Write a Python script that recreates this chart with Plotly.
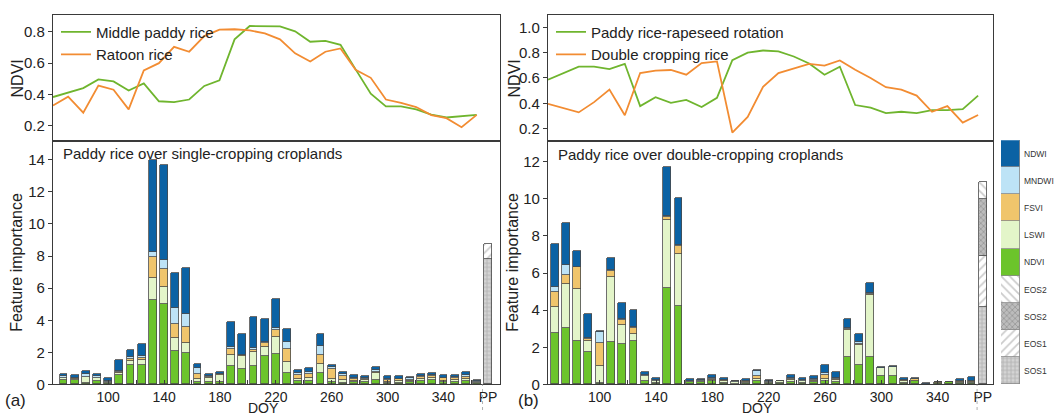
import plotly.graph_objects as go

W, H = 1056, 418
FONT = "Liberation Sans, Arial, sans-serif"

# ---------------- NDVI profiles (top panels) ----------------
middle_paddy = [0.383, 0.41, 0.44, 0.496, 0.483, 0.425, 0.47, 0.356, 0.35, 0.367, 0.454, 0.49,
                0.752, 0.838, 0.835, 0.835, 0.804, 0.737, 0.742, 0.717, 0.56, 0.404, 0.323,
                0.323, 0.304, 0.27, 0.252, 0.26, 0.269]
ratoon = [0.329, 0.385, 0.283, 0.456, 0.43, 0.304, 0.554, 0.6, 0.704, 0.673, 0.773, 0.815,
          0.817, 0.81, 0.79, 0.752, 0.663, 0.61, 0.673, 0.694, 0.558, 0.506, 0.367, 0.346,
          0.319, 0.267, 0.248, 0.19, 0.269]
rapeseed_rot = [0.587, 0.64, 0.689, 0.689, 0.67, 0.712, 0.378, 0.448, 0.404, 0.427, 0.37, 0.443,
                0.741, 0.8, 0.817, 0.81, 0.77, 0.715, 0.626, 0.689, 0.386, 0.365, 0.323, 0.333,
                0.323, 0.346, 0.346, 0.354, 0.461]
double_rice = [0.396, 0.36, 0.328, 0.409, 0.508, 0.305, 0.639, 0.658, 0.663, 0.626, 0.718, 0.731,
               0.169, 0.292, 0.53, 0.639, 0.678, 0.712, 0.697, 0.739, 0.665, 0.6, 0.527, 0.508,
               0.461, 0.333, 0.378, 0.247, 0.307]
profile_idx = list(range(len(middle_paddy)))

# ---------------- Feature importance (bottom panels) ----------------
doy = list(range(68, 365, 8))
features = ["NDVI", "LSWI", "FSVI", "MNDWI", "NDWI"]
colors = {"NDVI": "#6CC42B", "LSWI": "#E3F5C9", "FSVI": "#F0C56C",
          "MNDWI": "#BDE3F6", "NDWI": "#0B62A4"}

single = {
    "NDVI":  [0.27, 0.27, 0.05, 0.20, 0.08, 0.55, 1.17, 1.19, 5.27, 5.01, 2.09, 1.97, 0.14, 0.15,
              0.12, 1.16, 0.96, 1.14, 1.74, 1.90, 0.73, 0.20, 0.20, 0.73, 0.12, 0.10, 0.12, 0.15,
              0.25, 0.08, 0.10, 0.15, 0.20, 0.25, 0.12, 0.15, 0.18, 0.10],
    "LSWI":  [0.10, 0.07, 0.38, 0.17, 0.05, 0.15, 0.30, 0.35, 1.32, 1.02, 0.81, 0.61, 0.17, 0.27,
              0.45, 0.67, 0.78, 0.86, 0.60, 1.06, 0.65, 0.10, 0.17, 0.51, 0.20, 0.14, 0.10, 0.12,
              0.45, 0.08, 0.08, 0.05, 0.15, 0.15, 0.10, 0.10, 0.15, 0.03],
    "FSVI":  [0.05, 0.05, 0.05, 0.05, 0.04, 0.08, 0.13, 0.12, 1.32, 1.13, 0.85, 0.97, 0.35, 0.05,
              0.05, 0.34, 0.06, 0.15, 0.20, 0.41, 0.81, 0.28, 0.28, 0.57, 0.61, 0.30, 0.10, 0.06,
              0.06, 0.10, 0.12, 0.05, 0.10, 0.13, 0.15, 0.12, 0.12, 0.03],
    "MNDWI": [0.07, 0.03, 0.15, 0.08, 0.04, 0.07, 0.08, 0.10, 0.31, 0.57, 1.02, 0.85, 0.37, 0.05,
              0.05, 0.16, 0.05, 0.10, 0.10, 0.16, 0.47, 0.12, 0.10, 0.60, 0.17, 0.13, 0.08, 0.06,
              0.12, 0.05, 0.05, 0.15, 0.07, 0.05, 0.05, 0.10, 0.10, 0.02],
    "NDWI":  [0.13, 0.15, 0.17, 0.16, 0.20, 0.69, 0.47, 0.72, 5.74, 5.92, 2.19, 2.84, 0.26, 0.14,
              0.11, 1.52, 1.29, 1.95, 1.40, 1.80, 0.77, 0.20, 0.24, 0.71, 0.10, 0.10, 0.19, 0.14,
              0.22, 0.18, 0.14, 0.07, 0.15, 0.15, 0.17, 0.12, 0.22, 0.10],
}
double = {
    "NDVI":  [2.75, 3.02, 2.33, 1.75, 0.05, 2.25, 2.16, 2.32, 0.15, 0.05, 5.21, 4.21, 0.10, 0.12,
              0.15, 0.05, 0.03, 0.05, 0.15, 0.05, 0.08, 0.12, 0.08, 0.10, 0.15, 0.12, 1.49, 1.05,
              1.49, 0.45, 0.42, 0.08, 0.15, 0.02, 0.05, 0.10, 0.08, 0.08],
    "LSWI":  [1.40, 2.37, 2.81, 0.58, 0.91, 3.54, 1.05, 0.38, 0.30, 0.12, 3.61, 2.81, 0.05, 0.05,
              0.10, 0.15, 0.10, 0.08, 0.12, 0.05, 0.07, 0.13, 0.07, 0.10, 0.15, 0.12, 1.44, 1.09,
              3.33, 0.42, 0.50, 0.12, 0.05, 0.01, 0.03, 0.00, 0.05, 0.03],
    "FSVI":  [0.84, 0.52, 1.18, 0.10, 1.27, 0.30, 0.25, 0.35, 0.02, 0.02, 0.20, 0.40, 0.02, 0.02,
              0.04, 0.02, 0.01, 0.02, 0.18, 0.03, 0.01, 0.05, 0.03, 0.04, 0.18, 0.05, 0.03, 0.04,
              0.03, 0.01, 0.01, 0.02, 0.08, 0.00, 0.02, 0.00, 0.02, 0.05],
    "MNDWI": [0.26, 0.53, 0.02, 0.08, 0.61, 0.05, 0.05, 0.03, 0.03, 0.02, 0.05, 0.07, 0.02, 0.02,
              0.05, 0.03, 0.02, 0.03, 0.27, 0.02, 0.01, 0.05, 0.04, 0.05, 0.10, 0.03, 0.08, 0.08,
              0.05, 0.01, 0.01, 0.02, 0.01, 0.00, 0.01, 0.00, 0.02, 0.02],
    "NDWI":  [2.28, 2.24, 0.82, 1.26, 0.02, 0.65, 0.88, 0.90, 0.17, 0.14, 2.63, 2.56, 0.11, 0.05,
              0.15, 0.07, 0.02, 0.10, 0.07, 0.10, 0.01, 0.16, 0.10, 0.13, 0.46, 0.35, 0.50, 0.42,
              0.55, 0.04, 0.04, 0.08, 0.03, 0.06, 0.03, 0.02, 0.10, 0.22],
}

# Phenology-period (PP) features
pp_x = [372]
pp_names = ["SOS1", "EOS1", "SOS2", "EOS2"]
pp_single = {"SOS1": 7.8, "EOS1": 0.95, "SOS2": 0.0, "EOS2": 0.0}
pp_double = {"SOS1": 4.16, "EOS1": 2.77, "SOS2": 3.03, "EOS2": 0.94}
pp_pattern = {
    "SOS1": dict(shape="+", bgcolor="#d4d4d4", fgcolor="#8a8a8a", size=4, solidity=0.35),
    "EOS1": dict(shape="/", bgcolor="#ffffff", fgcolor="#9a9a9a", size=6, solidity=0.3),
    "SOS2": dict(shape="x", bgcolor="#bcbcbc", fgcolor="#7a7a7a", size=4, solidity=0.4),
    "EOS2": dict(shape="\\", bgcolor="#ffffff", fgcolor="#9a9a9a", size=6, solidity=0.3),
}

doy_ticks = [100, 140, 180, 220, 260, 300, 340]
legend_order = ["NDWI", "MNDWI", "FSVI", "LSWI", "NDVI", "EOS2", "SOS2", "EOS1", "SOS1"]

GREEN = "#6FB52E"
ORANGE = "#F28C32"
AX = "#3a3a3a"

fig = go.Figure()

# top panels
fig.add_trace(go.Scatter(x=profile_idx, y=middle_paddy, mode="lines", name="Middle paddy rice",
                         line=dict(color=GREEN, width=1.8), xaxis="x", yaxis="y", legend="legend"))
fig.add_trace(go.Scatter(x=profile_idx, y=ratoon, mode="lines", name="Ratoon rice",
                         line=dict(color=ORANGE, width=1.8), xaxis="x", yaxis="y", legend="legend"))
fig.add_trace(go.Scatter(x=profile_idx, y=rapeseed_rot, mode="lines", name="Paddy rice-rapeseed rotation",
                         line=dict(color=GREEN, width=1.8), xaxis="x3", yaxis="y3", legend="legend2"))
fig.add_trace(go.Scatter(x=profile_idx, y=double_rice, mode="lines", name="Double cropping rice",
                         line=dict(color=ORANGE, width=1.8), xaxis="x3", yaxis="y3", legend="legend2"))

BW = 5.6
for data, xa, ya in [(single, "x2", "y2"), (double, "x4", "y4")]:
    for f in features:
        fig.add_trace(go.Bar(x=doy, y=data[f], width=BW, marker=dict(color=colors[f],
                             line=dict(color="#4a4a4a", width=0.8)),
                             xaxis=xa, yaxis=ya, showlegend=False, hoverinfo="skip"))
for data, xa, ya in [(pp_single, "x2", "y2"), (pp_double, "x4", "y4")]:
    for p in pp_names:
        if data[p] <= 0:
            continue
        fig.add_trace(go.Bar(x=pp_x, y=[data[p]], width=BW,
                             marker=dict(color="white", pattern=pp_pattern[p],
                                         line=dict(color="#4a4a4a", width=0.8)),
                             xaxis=xa, yaxis=ya, showlegend=False, hoverinfo="skip"))

# feature legend as its own tiny stacked column
for name in reversed(legend_order):
    if name in colors:
        mk = dict(color=colors[name], line=dict(color="#8a8a8a", width=0.8))
    else:
        mk = dict(color="white", pattern=pp_pattern[name], line=dict(color="#8a8a8a", width=0.8))
    fig.add_trace(go.Bar(x=[0], y=[1], width=1, marker=mk, xaxis="x5", yaxis="y5",
                         showlegend=False, hoverinfo="skip"))

LX = [53 / W, 500 / W]
RX = [548 / W, 993 / W]
TY = [1 - 144 / H, 1 - 15 / H]
BY = [1 - 392 / H, 1 - 144 / H]

tickfont = dict(family=FONT, size=15, color="#222")
xtickfont = dict(family=FONT, size=14, color="#222")
common = dict(showline=True, mirror=True, linecolor=AX, linewidth=1.3, showgrid=False,
              zeroline=False)

layout = dict(
    width=W, height=H, margin=dict(l=0, r=0, t=0, b=0),
    paper_bgcolor="white", plot_bgcolor="white", barmode="stack", bargap=0,
    font=dict(family=FONT, color="#222"),
    xaxis=dict(domain=LX, range=[0, 29.54], showticklabels=False, ticks="", anchor="y", **common),
    yaxis=dict(domain=TY, range=[0.1, 0.91], tickvals=[0.2, 0.4, 0.6, 0.8], tickformat=".1f",
               ticks="outside", ticklen=4, tickcolor=AX, anchor="x", tickfont=tickfont, **common),
    xaxis2=dict(domain=LX, range=[60.5, 380.5], tickvals=doy_ticks + pp_x,
                ticktext=[str(t) for t in doy_ticks] + ["PP"], ticks="", anchor="y2",
                tickfont=xtickfont,
                minor=dict(tickvals=list(range(100, 361, 20)), ticks="inside", ticklen=4,
                           tickcolor=AX), **common),
    yaxis2=dict(domain=BY, range=[0, 15.15], tickvals=list(range(0, 15, 2)), ticks="outside",
                ticklen=4, tickcolor=AX, anchor="x2", tickfont=tickfont, **common),
    xaxis3=dict(domain=RX, range=[0, 28.97], showticklabels=False, ticks="", anchor="y3", **common),
    yaxis3=dict(domain=TY, range=[0.1, 1.1], tickvals=[0.2, 0.4, 0.6, 0.8, 1.0], tickformat=".1f",
                ticks="outside", ticklen=4, tickcolor=AX, anchor="x3", tickfont=tickfont, **common),
    xaxis4=dict(domain=RX, range=[63.3, 379.3], tickvals=doy_ticks + pp_x,
                ticktext=[str(t) for t in doy_ticks] + ["PP"], ticks="", anchor="y4",
                tickfont=xtickfont,
                minor=dict(tickvals=list(range(100, 361, 20)), ticks="inside", ticklen=4,
                           tickcolor=AX), **common),
    yaxis4=dict(domain=BY, range=[0, 13.1], tickvals=list(range(0, 13, 2)), ticks="outside",
                ticklen=4, tickcolor=AX, anchor="x4", tickfont=tickfont, **common),
    xaxis5=dict(domain=[1001 / W, 1020 / W], range=[-0.5, 0.5], visible=False, anchor="y5"),
    yaxis5=dict(domain=[1 - 392 / H, 1 - 143 / H], range=[0, 9], visible=False, anchor="x5"),
    legend=dict(x=56 / W, y=1 - 16 / H, xanchor="left", yanchor="top", bgcolor="rgba(0,0,0,0)",
                font=dict(family=FONT, size=15, color="#222"), tracegroupgap=0, itemwidth=30,
                traceorder="normal"),
    legend2=dict(x=551 / W, y=1 - 16 / H, xanchor="left", yanchor="top", bgcolor="rgba(0,0,0,0)",
                 font=dict(family=FONT, size=15, color="#222"), tracegroupgap=0, itemwidth=30,
                 traceorder="normal"),
)
fig.update_layout(**layout)

ann = []
def txt(x, y, s, size=15, angle=0, xanchor="center", yanchor="middle"):
    ann.append(dict(x=x, y=y, text=s, showarrow=False, xref="paper", yref="paper", textangle=angle,
                    xanchor=xanchor, yanchor=yanchor,
                    font=dict(family=FONT, size=size, color="#222")))

txt(17 / W, 1 - 80 / H, "NDVI", 16, -90)
txt(17 / W, 1 - 268 / H, "Feature importance", 16, -90)
txt(514 / W, 1 - 80 / H, "NDVI", 16, -90)
txt(513 / W, 1 - 268 / H, "Feature importance", 16, -90)
txt(61 / W, 1 - 157 / H, "Paddy rice over single-cropping croplands", 15, xanchor="left")
txt(556 / W, 1 - 158 / H, "Paddy rice over double-cropping croplands", 15, xanchor="left")
txt(15 / W, 1 - 408 / H, "(a)", 17)
txt(528 / W, 1 - 408 / H, "(b)", 17)
txt(263 / W, 1 - 406 / H, "DOY", 14, yanchor="top")
txt(757 / W, 1 - 406 / H, "DOY", 14, yanchor="top")
for i, name in enumerate(reversed(legend_order)):
    ann.append(dict(x=1022 / W, y=i + 0.5, xref="paper", yref="y5", text=name, showarrow=False,
                    xanchor="left", yanchor="middle", font=dict(family=FONT, size=8.5, color="#333")))
fig.update_layout(annotations=ann)

# dotted separators under the x axes between DOY bars and PP
for xa in ["x2", "x4"]:
    fig.add_shape(type="line", xref=xa, yref="paper", x0=368, x1=368, y0=0, y1=1 - 392 / H,
                  line=dict(color="#b0b0b0", width=1, dash="dot"))

fig.write_html("out.html")
